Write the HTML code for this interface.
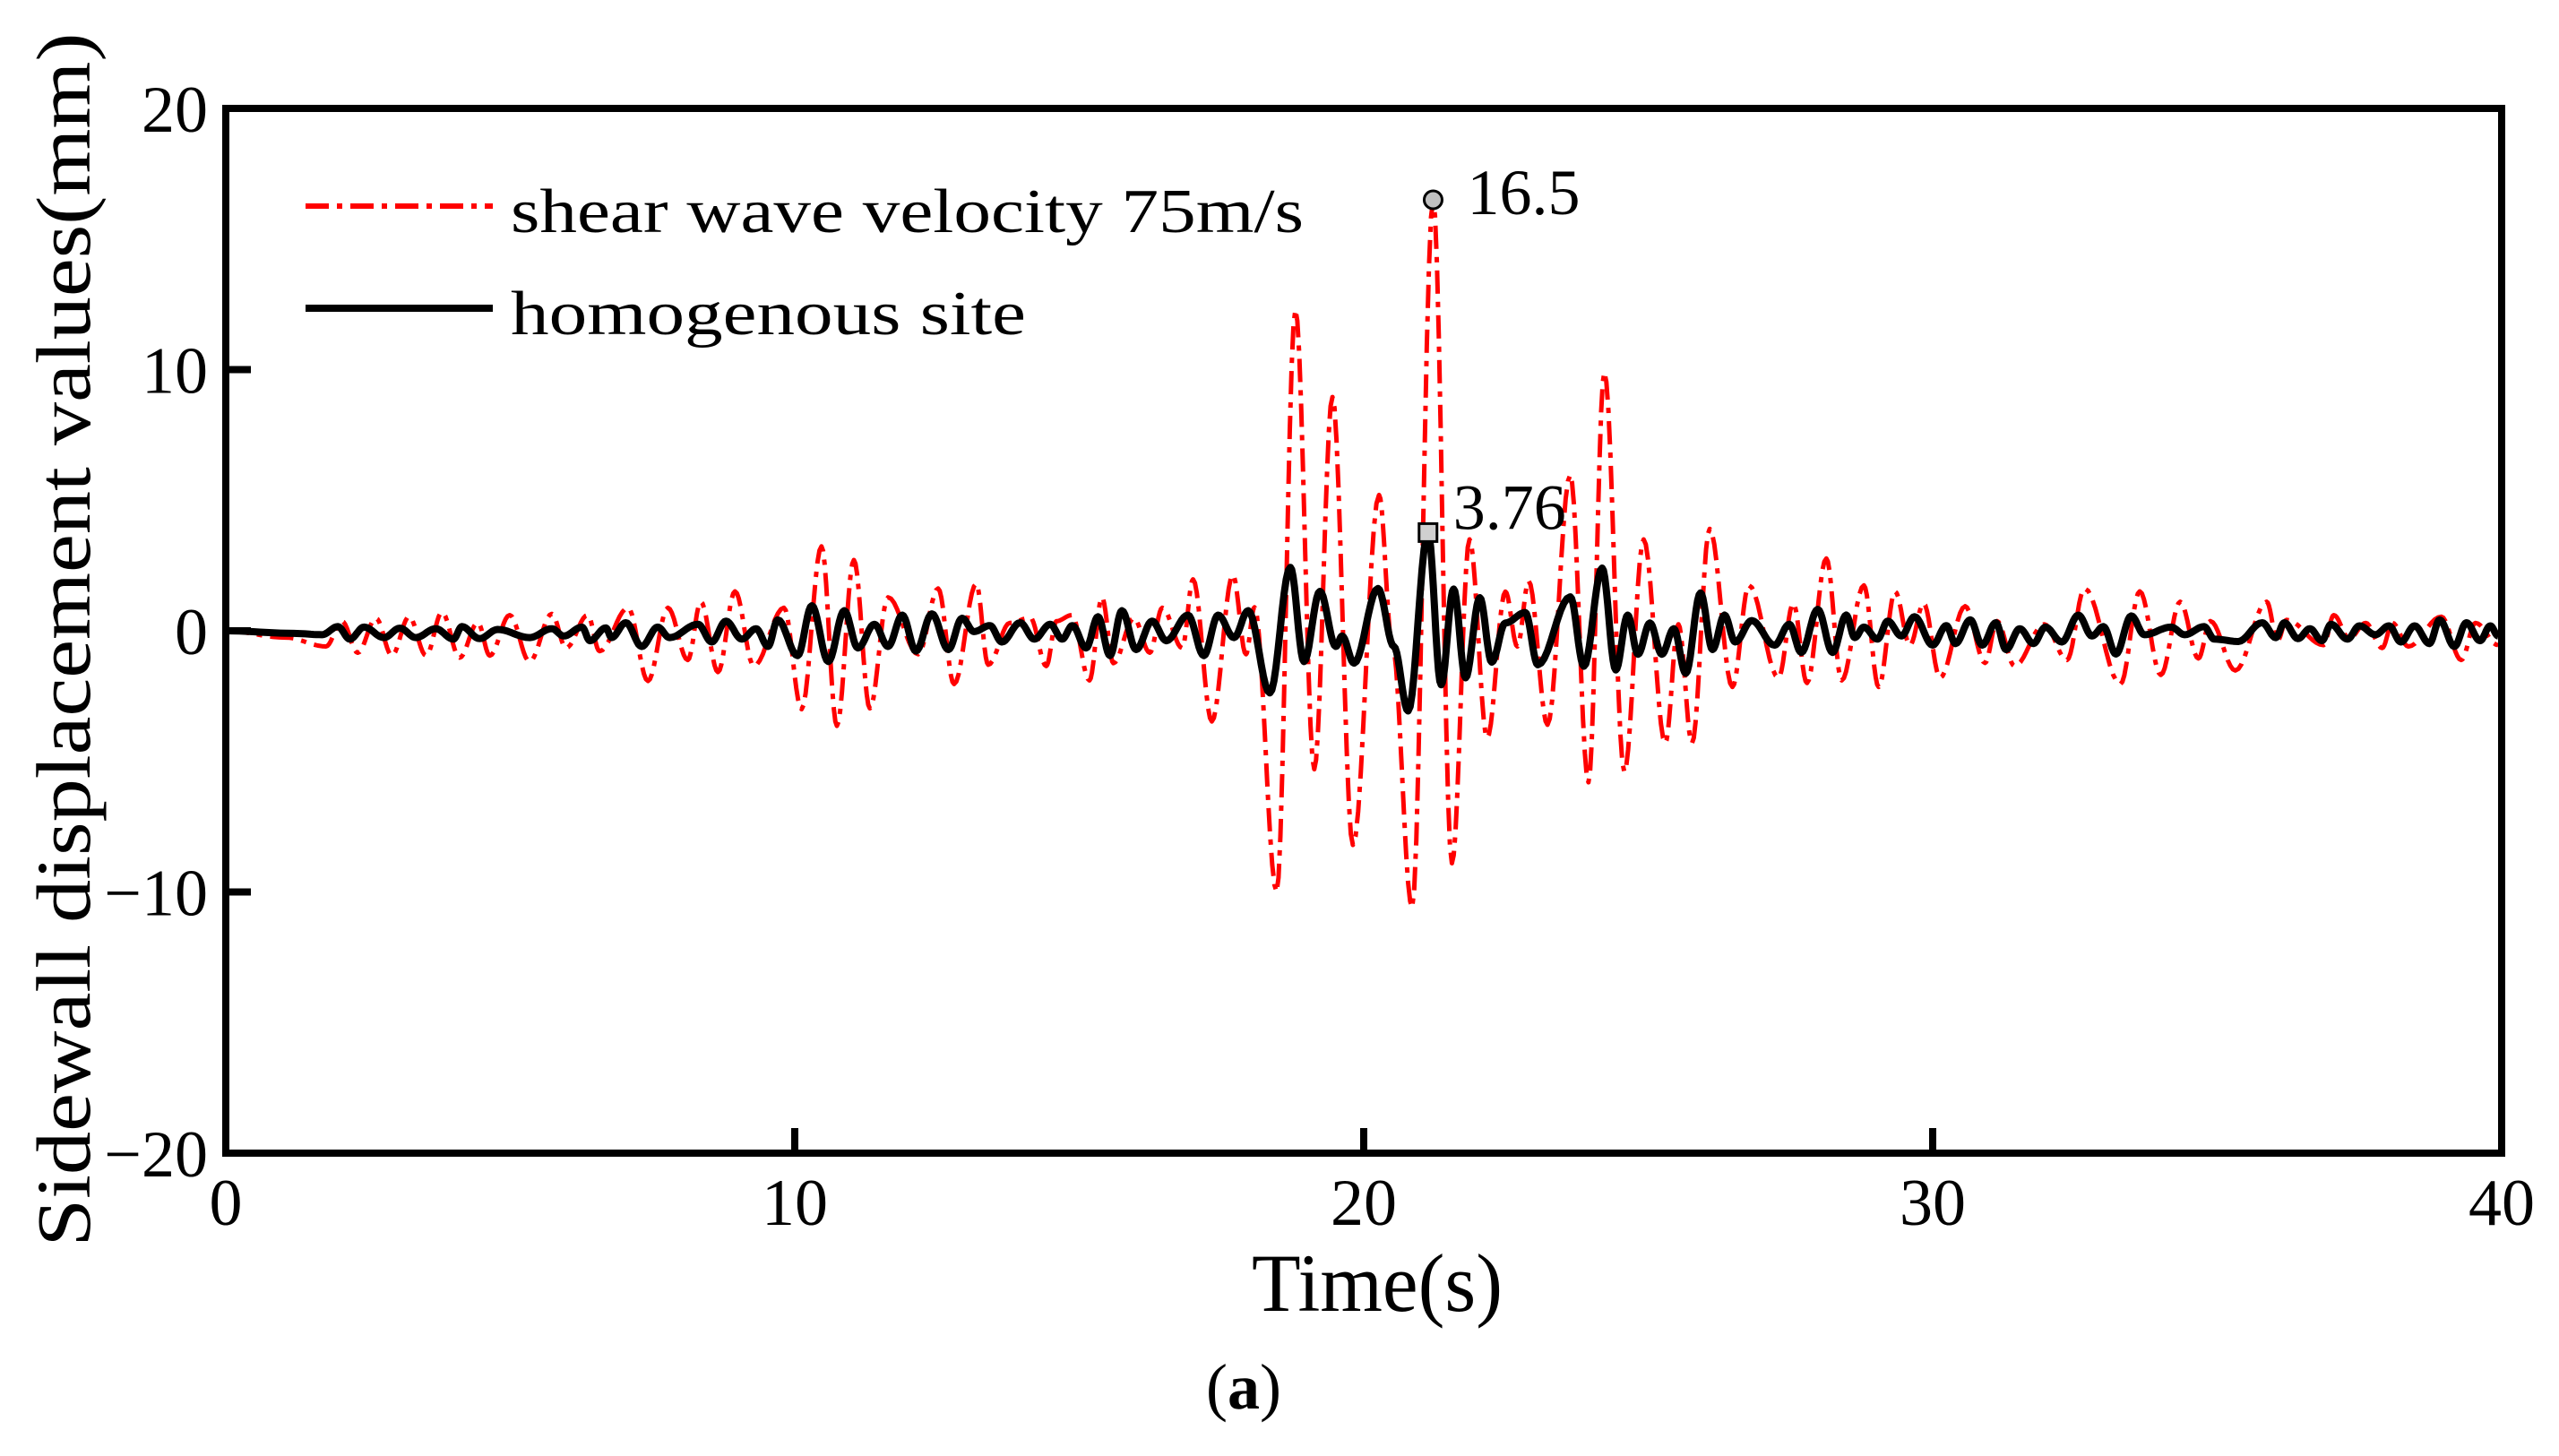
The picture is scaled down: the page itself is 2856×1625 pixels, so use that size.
<!DOCTYPE html>
<html><head><meta charset="utf-8"><style>
html,body{margin:0;padding:0;background:#fff;}
svg{display:block;}
text{font-family:"Liberation Serif",serif;fill:#000;}
</style></head><body>
<svg id="chart" width="2856" height="1625" viewBox="0 0 2856 1625" xmlns="http://www.w3.org/2000/svg">
<g id="series"></g>
<g id="axes"></g>
<g>
  <line x1="341" y1="230" x2="550" y2="230" stroke="#ff0000" stroke-width="6" stroke-dasharray="26 9 6 9"/>
  <text x="570" y="259" font-size="70" textLength="885" lengthAdjust="spacingAndGlyphs">shear wave velocity 75m/s</text>
  <line x1="341" y1="344" x2="550" y2="344" stroke="#000" stroke-width="8"/>
  <text x="570" y="373" font-size="70" textLength="575" lengthAdjust="spacingAndGlyphs">homogenous site</text>
</g>
<text x="1537" y="1463" font-size="92" text-anchor="middle" textLength="280" lengthAdjust="spacingAndGlyphs">Time(s)</text>
<text transform="translate(100,714) rotate(-90)" font-size="86" text-anchor="middle" textLength="1355" lengthAdjust="spacingAndGlyphs">Sidewall displacement values(mm)</text>
<text x="1388" y="1572" font-size="72" text-anchor="middle">(<tspan font-weight="bold">a</tspan>)</text>
</svg>
<script>
const xTicks = [0, 10, 20, 30, 40];
const yTicks = [-20, -10, 0, 10, 20];
const redT = [0,1.05,1.76,2.04,2.32,2.64,2.92,3.22,3.52,3.80,4.11,4.43,4.64,4.99,5.34,5.73,5.98,6.36,6.57,7.07,7.42,7.77,8.12,8.35,8.65,8.95,9.28,9.81,10.12,10.47,10.74,11.04,11.32,11.64,12.17,12.52,12.80,13.19,13.40,13.78,14.14,14.42,14.60,14.87,15.18,15.40,15.60,15.96,16.24,16.46,16.81,17.00,17.33,17.70,17.93,18.08,18.47,18.80,19.13,19.45,19.81,20.27,20.50,20.85,21.22,21.55,21.86,22.17,22.49,22.70,22.90,23.23,23.63,23.95,24.23,24.58,24.92,25.30,25.53,25.77,26.08,26.48,26.77,27.29,27.55,27.79,28.13,28.40,28.79,29.05,29.34,29.60,29.84,30.13,30.57,30.92,31.13,31.44,31.96,32.36,32.67,33.30,33.64,34.01,34.35,34.67,34.88,35.32,35.87,36.06,36.22,36.87,37.05,37.32,37.61,37.90,38.08,38.36,38.94,39.29,39.54,39.94];
const redV = [0,-0.26,-0.6,0.37,-0.84,0.48,-0.95,0.54,-0.95,0.71,-1.03,0.31,-0.95,0.6,-1.18,0.65,-0.66,0.6,-0.78,0.88,-1.92,0.88,-1.12,1.11,-1.58,1.51,-1.35,0.88,-3.0,3.23,-3.64,2.71,-2.97,1.28,-0.9,1.62,-2.04,1.8,-1.3,0.3,0.5,-1.35,0.37,0.6,-1.9,1.28,-1.24,0.48,-0.84,0.88,-0.66,1.97,-3.47,2.14,-0.9,0.9,-10.0,12.3,-5.3,8.95,-8.2,5.2,-0.5,-10.6,16.5,-8.9,3.5,-4.1,1.5,-0.6,1.9,-3.6,5.97,-5.8,9.9,-5.4,3.5,-4.3,0.25,-4.3,3.9,-2.15,1.74,-1.8,1.05,-2.0,2.77,-1.9,1.74,-2.15,1.5,-0.55,1.05,-1.8,0.94,-1.23,0.37,-1.35,0.25,-1.12,1.62,-2.04,1.51,-1.69,1.11,-1.06,0.37,-1.52,1.11,-0.38,0.42,-0.55,0.6,-0.3,0.3,-0.66,0.3,-0.6,0.54,-1.12,0.3,-0.55];
const blackT = [0,1.2,1.69,1.97,2.18,2.43,2.78,3.06,3.34,3.69,4.0,4.15,4.46,4.78,5.34,5.73,5.94,6.26,6.4,6.68,6.78,7.03,7.31,7.59,7.8,8.3,8.54,8.79,9.07,9.32,9.53,9.7,10.05,10.3,10.59,10.87,11.11,11.4,11.64,11.89,12.13,12.41,12.7,12.94,13.15,13.43,13.64,13.96,14.21,14.49,14.7,14.88,15.12,15.33,15.54,15.75,16.0,16.28,16.53,16.91,17.19,17.44,17.72,17.97,18.35,18.71,18.95,19.23,19.51,19.62,19.83,20.25,20.53,20.78,21.13,21.36,21.58,21.79,22.04,22.25,22.49,22.84,23.06,23.63,23.87,24.19,24.43,24.64,24.82,25.03,25.24,25.45,25.66,25.92,26.13,26.34,26.53,26.82,27.22,27.48,27.69,27.98,28.24,28.48,28.63,28.79,29.03,29.21,29.45,29.68,30.0,30.24,30.4,30.66,30.87,31.11,31.29,31.53,31.77,31.98,32.27,32.56,32.8,33.0,33.22,33.49,33.72,34.19,34.43,34.77,34.95,35.37,35.79,36.03,36.18,36.42,36.63,36.84,37.0,37.29,37.5,37.78,38.02,38.23,38.47,38.73,38.91,39.17,39.38,39.62,39.8,39.94];
const blackV = [0,-0.1,-0.15,0.16,-0.32,0.14,-0.26,0.1,-0.26,0.08,-0.32,0.16,-0.3,0.05,-0.26,0.08,-0.2,0.14,-0.38,0.11,-0.26,0.31,-0.6,0.14,-0.26,0.25,-0.43,0.37,-0.32,0.08,-0.6,0.42,-0.95,0.96,-1.18,0.77,-0.66,0.25,-0.6,0.6,-0.78,0.65,-0.72,0.48,-0.03,0.2,-0.43,0.31,-0.32,0.25,-0.32,0.2,-0.66,0.54,-0.95,0.77,-0.72,0.37,-0.38,0.6,-0.95,0.6,-0.26,0.77,-2.38,2.43,-1.18,1.51,-0.6,-0.2,-1.24,1.62,-0.6,-3.07,3.76,-2.07,1.6,-1.8,1.27,-1.2,0.3,0.7,-1.3,1.3,-1.36,2.4,-1.5,0.6,-0.9,0.3,-0.9,0.08,-1.63,1.45,-0.72,0.6,-0.43,0.39,-0.55,0.25,-0.83,0.82,-0.83,0.6,-0.26,0.14,-0.32,0.37,-0.2,0.54,-0.55,0.2,-0.49,0.42,-0.55,0.31,-0.72,0.08,-0.49,0.14,-0.43,0.6,-0.2,0.16,-0.89,0.57,-0.15,0.14,-0.15,0.16,-0.32,-0.41,0.31,-0.26,0.31,-0.3,0.08,-0.38,0.25,-0.32,0.19,-0.15,0.19,-0.43,0.19,-0.49,0.42,-0.6,0.31,-0.38,0.19,-0.2];
const peakRedLabel = "16.5";
const peakBlackLabel = "3.76";

const L=252, R=2792, T=121, B=1287;
const xMin=0, xMax=40, yMin=-20, yMax=20;
const NS="http://www.w3.org/2000/svg";
function sx(t){return L+(t-xMin)/(xMax-xMin)*(R-L);}
function sy(v){return B-(v-yMin)/(yMax-yMin)*(B-T);}
function mk(tag, attrs, parent){const e=document.createElementNS(NS,tag);for(const k in attrs)e.setAttribute(k,attrs[k]);parent.appendChild(e);return e;}
function pathFrom(ts, vs){
  let d="M"+sx(ts[0]).toFixed(1)+","+sy(vs[0]).toFixed(1);
  for(let i=1;i<ts.length;i++){
    const t0=ts[i-1],t1=ts[i],v0=vs[i-1],v1=vs[i];
    const n=10;
    for(let k=1;k<=n;k++){
      const f=k/n, t=t0+(t1-t0)*f, v=v0+(v1-v0)*(1-Math.cos(Math.PI*f))/2;
      d+="L"+sx(t).toFixed(1)+","+sy(v).toFixed(1);
    }
  }
  return d;
}
const series=document.getElementById('series');
const red=mk('path',{d:pathFrom(redT,redV),fill:'none',stroke:'#ff0000','stroke-width':5,'stroke-dasharray':'26 9 6 9','stroke-linejoin':'round'},series);


const blk=mk('path',{d:pathFrom(blackT,blackV),fill:'none',stroke:'#000','stroke-width':8,'stroke-linejoin':'round'},series);



// peak markers
let ri=redV.indexOf(Math.max(...redV));
const c=mk('circle',{cx:sx(redT[ri]),cy:sy(redV[ri]),r:10,fill:'#c0c0c0',stroke:'#000','stroke-width':3},series);


const ct=mk('text',{x:sx(redT[ri])+38,y:sy(redV[ri])+16,'font-size':72},series);
ct.textContent=peakRedLabel;


let bi=blackV.indexOf(Math.max(...blackV));
const sq=mk('rect',{x:sx(blackT[bi])-10,y:sy(blackV[bi])-10,width:20,height:20,fill:'#d0d0d0',stroke:'#000','stroke-width':3},series);


const st=mk('text',{x:sx(blackT[bi])+28,y:sy(blackV[bi])-4,'font-size':72},series);
st.textContent=peakBlackLabel;



// axes
const axes=document.getElementById('axes');
const fr=mk('rect',{x:L,y:T,width:R-L,height:B-T,fill:'none',stroke:'#000','stroke-width':8},axes);


xTicks.forEach(t=>{
  if(t>xMin&&t<xMax){
    const tk=mk('line',{x1:sx(t),x2:sx(t),y1:B,y2:B-28,stroke:'#000','stroke-width':8},axes);
    
    
  }
  const lb=mk('text',{x:sx(t),y:1367,'font-size':74,'text-anchor':'middle'},axes);
  lb.textContent=String(t);
  
  
});
yTicks.forEach(v=>{
  if(v>yMin&&v<yMax){
    const tk=mk('line',{x1:L,x2:L+28,y1:sy(v),y2:sy(v),stroke:'#000','stroke-width':8},axes);
    
    
  }
  const lb=mk('text',{x:232,y:sy(v)+26,'font-size':74,'text-anchor':'end'},axes);
  lb.textContent=v<0?"\u2212"+Math.abs(v):String(v);
  
  
});
</script>
</body></html>
